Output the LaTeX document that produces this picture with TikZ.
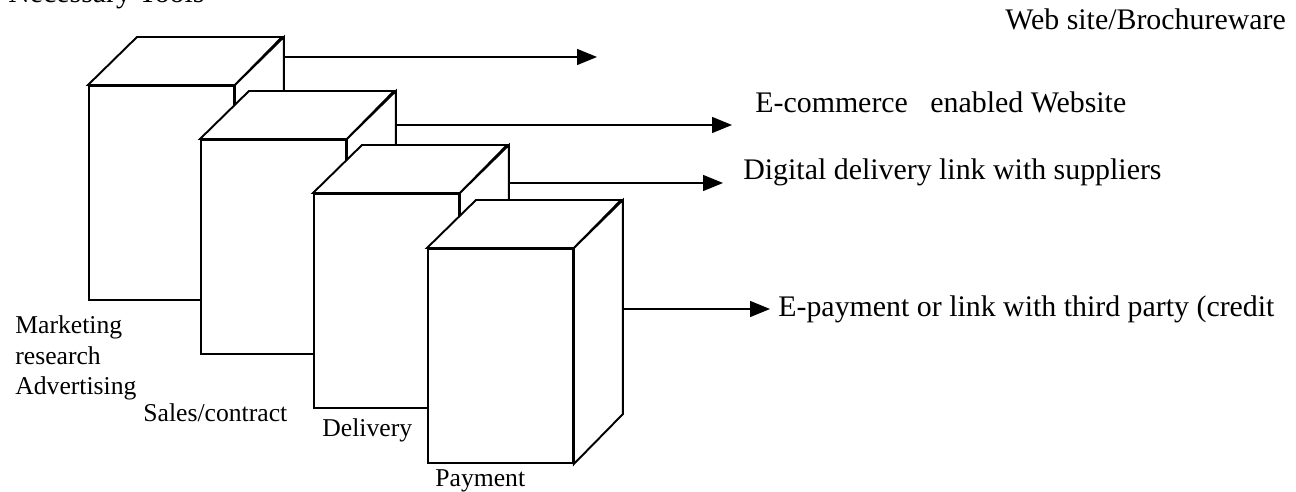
\documentclass[tikz,border=0pt]{standalone}
\usepackage{fontspec}
\setmainfont{Liberation Serif}
\usetikzlibrary{arrows.meta}
\usetikzlibrary{calc}

\tikzset{
  facebox/.style={draw, fill=white, line width=1.1pt, anchor=north west,
    minimum width=29mm, minimum height=42.8mm, inner sep=0pt},
  boxline/.style={draw, fill=white, line width=1.1pt, line join=miter},
  flow/.style={-{Triangle[length=4mm,width=3.2mm]}, line width=0.8pt},
  lbl/.style={inner sep=0pt, font=\fontsize{17}{20}\selectfont},
  stagelbl/.style={inner sep=0pt, align=left, font=\fontsize{14.6}{17.6}\selectfont}
}

\begin{document}
\begin{tikzpicture}[x=0.2mm, y=-0.2mm]
\useasboundingbox (0,0) rectangle (1296,492);

% the four stages, back to front
\foreach \n/\px/\py in {mkt/88/85, sal/200/139, del/313/193, pay/427/248} {
    \node[facebox] (\n) at (\px,\py) {};
    \path[boxline] (\n.north west) -- ++(49,-48) -- ++(145,0)
        -- (\n.north east) -- cycle;
    \path[boxline] (\n.north east) -- ++(49,-48) -- ++(0,214)
        -- (\n.south east) -- cycle;
}

% where the arrows leave and end
\coordinate (mktout) at ($(mkt.north east)+(49,-28)$);
\coordinate (salout) at ($(sal.north east)+(49,-14)$);
\coordinate (delout) at ($(del.north east)+(49,-10)$);
\coordinate (payout) at ($(pay.north east)+(49,61)$);
\coordinate (mktend) at (597,57);
\coordinate (salend) at (732,125);
\coordinate (delend) at (723,183);
\coordinate (payend) at (770,309);

\path[flow] (mktout) edge (mktend);
\path[flow] (salout) edge (salend);
\path[flow] (delout) edge (delend);
\path[flow] (payout) edge (payend);

% texts
\node[lbl, anchor=base west] (title) at (8,3) {Necessary Tools};
\node[lbl, anchor=base west] (web) at (1005,30) {Web site/Brochureware};
\node[lbl, anchor=base west] (ecom) at (755,113) {E-commerce\ \ \ enabled Website};
\node[lbl, anchor=base west] (digi) at (743,180) {Digital delivery link with suppliers};
\node[lbl, anchor=base west] (epay) at (778,317) {E-payment or link with third party (credit};
\node[stagelbl, anchor=base west] (mktlbl) at (15,395) {Marketing\\research\\Advertising};
\node[stagelbl, anchor=base west] (sallbl) at (143,422) {Sales/contract};
\node[stagelbl, anchor=base west] (dellbl) at (322,437) {Delivery};
\node[stagelbl, anchor=base west] (paylbl) at (435,487) {Payment};
\end{tikzpicture}
\end{document}
